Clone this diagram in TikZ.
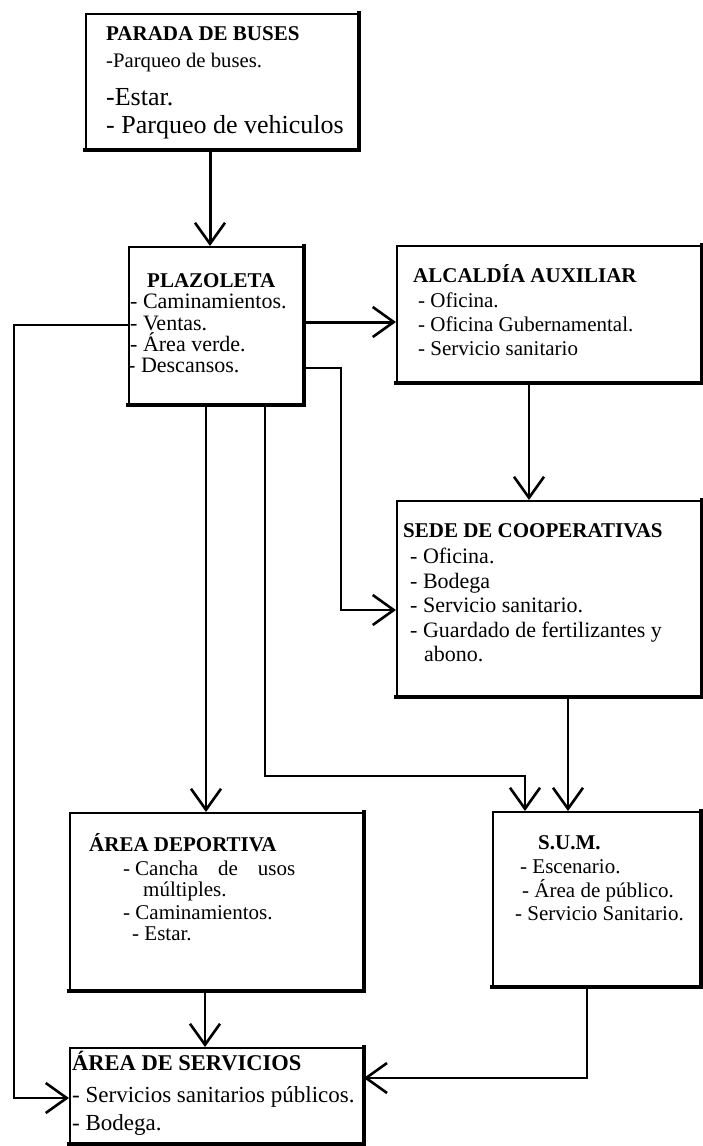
\documentclass[tikz,border=0pt]{standalone}
\usepackage{fontspec}
\setmainfont{Liberation Serif}
\usetikzlibrary{arrows.meta}
\begin{document}
\begin{tikzpicture}[x=1pt,y=-1pt,
  box/.style={draw, line width=1.8pt, anchor=north west, inner sep=0pt},
  shadeline/.style={line width=4.5pt, line cap=rect},
  conn/.style={line width=1.8pt, -{Straight Barb[length=21pt,width=30pt,line width=2.6pt]}},
  heavyconn/.style={conn, line width=3pt},
  ttl/.style={anchor=base west, inner sep=0pt, font=\bfseries\fontsize{21}{21}\selectfont},
  txt/.style={anchor=base west, inner sep=0pt, font=\fontsize{21}{21}\selectfont},
  txtb/.style={anchor=base west, inner sep=0pt, font=\fontsize{22}{22}\selectfont},
]
\useasboundingbox (0,0) rectangle (703,1146);

% boxes
\node[box, minimum width=272pt, minimum height=135pt] (parada)   at (85,13)   {};
\node[box, minimum width=174pt, minimum height=157pt] (plaz)     at (128,246) {};
\node[box, minimum width=304pt, minimum height=136pt] (alc)      at (396,245) {};
\node[box, minimum width=304pt, minimum height=195pt] (sede)     at (396,500) {};
\node[box, minimum width=293pt, minimum height=177pt] (areadep)  at (69,812)  {};
\node[box, minimum width=207pt, minimum height=174pt] (sum)      at (492,811) {};
\node[box, minimum width=293pt, minimum height=95pt]  (areaserv) at (69,1047) {};
\foreach \n in {parada,plaz,alc,sede,areadep,sum,areaserv}
  \draw[shadeline] (\n.south west) -- (\n.south east) -- (\n.north east);

% helper coordinates
\coordinate (c1) at (210,0);
\coordinate (yA) at (0,322);
\coordinate (L1) at (14,325);
\coordinate (L2) at (14,1098);
\coordinate (R1) at (341,368);
\coordinate (R2) at (341,610);
\coordinate (D1) at (265,776);
\coordinate (D2) at (525,776);
\coordinate (X1) at (206,0);
\coordinate (X2) at (529,0);
\coordinate (X3) at (568,0);
\coordinate (X4) at (205,0);
\coordinate (S1) at (587,1078);

% connectors
\draw[heavyconn] (parada.south -| c1) -- (plaz.north -| c1);
\draw[heavyconn] (plaz.east |- yA) -- (alc.west |- yA);
\draw[conn] (plaz.west |- L1) -- (L1) -- (L2) -- (areaserv.west |- L2);
\draw[conn] (plaz.east |- R1) -- (R1) -- (R2) -- (sede.west |- R2);
\draw[conn] (plaz.south -| D1) -- (D1) -- (D2) -- (sum.north -| D2);
\draw[conn] (plaz.south -| X1) -- (areadep.north -| X1);
\draw[conn] (alc.south -| X2) -- (sede.north -| X2);
\draw[conn] (sede.south -| X3) -- (sum.north -| X3);
\draw[conn] (areadep.south -| X4) -- (areaserv.north -| X4);
\draw[conn] (sum.south -| S1) -- (S1) -- (areaserv.east |- S1);

% texts: Parada
\node[ttl] (pt) at (106,40) {PARADA DE BUSES};
\node[txt, font=\fontsize{20.7}{21}\selectfont] (p1) at (106,67) {-Parqueo de buses.};
\node[txt, font=\fontsize{26}{26}\selectfont] (p2) at (106,105) {-Estar.};
\node[txt, font=\fontsize{26}{26}\selectfont] (p3) at (106,133) {- Parqueo de vehiculos};

% Plazoleta
\node[ttl] (plt) at (147,287) {PLAZOLETA};
\node[txtb] (pl1) at (130,308) {- Caminamientos.};
\node[txtb] (pl2) at (130,330) {- Ventas.};
\node[txtb] (pl3) at (130,351) {- Área verde.};
\node[txtb] (pl4) at (128,372) {- Descansos.};

% Alcaldia
\node[ttl] (alt) at (413,282) {ALCALDÍA AUXILIAR};
\node[txt] (al1) at (418,307) {- Oficina.};
\node[txt] (al2) at (418,331) {- Oficina Gubernamental.};
\node[txt] (al3) at (418,355) {- Servicio sanitario};

% Sede
\node[ttl] (st) at (403,537) {SEDE DE COOPERATIVAS};
\node[txtb] (s1) at (410,563) {- Oficina.};
\node[txtb] (s2) at (410,588) {- Bodega};
\node[txtb] (s3) at (410,612) {- Servicio sanitario.};
\node[txtb] (s4) at (410,637) {- Guardado de fertilizantes y};
\node[txtb] (s5) at (424,661) {abono.};

% Area deportiva
\node[ttl] (adt) at (89,851) {ÁREA DEPORTIVA};
\node[txt] (ad1) at (123,875) {\makebox[172pt][l]{-\kern5pt Cancha\hfill de\hfill usos}};
\node[txt] (ad2) at (143,896) {múltiples.};
\node[txt] (ad3) at (123,919) {- Caminamientos.};
\node[txt] (ad4) at (132,940) {- Estar.};

% SUM
\node[ttl] (sut) at (538,849) {S.U.M.};
\node[txt] (su1) at (520,873) {- Escenario.};
\node[txt] (su2) at (522,897) {- Área de público.};
\node[txt] (su3) at (515,920) {- Servicio Sanitario.};

% Area de servicios
\node[ttl, font=\bfseries\fontsize{22.5}{22.5}\selectfont] (ast) at (72,1070) {ÁREA DE SERVICIOS};
\node[txt, font=\fontsize{23}{23}\selectfont] (as1) at (72,1102) {- Servicios sanitarios públicos.};
\node[txt, font=\fontsize{23}{23}\selectfont] (as2) at (72,1130) {- Bodega.};
\end{tikzpicture}
\end{document}
